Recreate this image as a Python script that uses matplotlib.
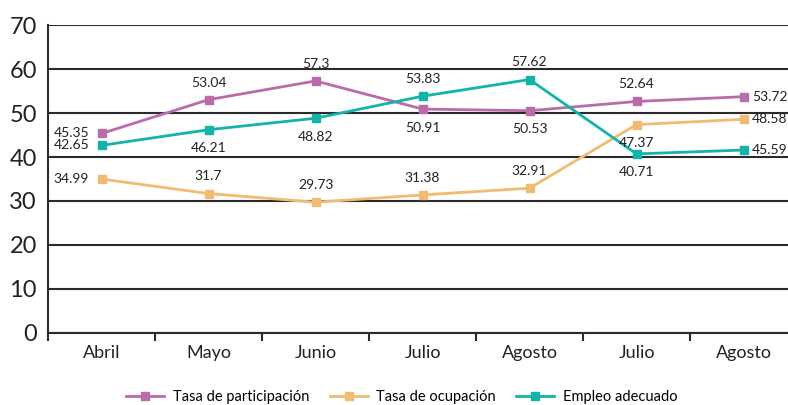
import matplotlib.pyplot as plt
import numpy as np

plt.rcParams['font.family'] = ['Lato', 'DejaVu Sans']

meses = ['Abril', 'Mayo', 'Junio', 'Julio', 'Agosto', 'Julio', 'Agosto']

participacion = [45.35, 53.04, 57.3, 50.91, 50.53, 52.64, 53.72]
ocupacion = [34.99, 31.7, 29.73, 31.38, 32.91, 47.37, 48.58]
empleo = [42.65, 46.21, 48.82, 53.83, 57.62, 40.71, 41.59]
# etiquetas tal como aparecen en el grafico original
empleo_txt = ['42.65', '46.21', '48.82', '53.83', '57.62', '40.71', '45.59']

# posicion de cada etiqueta: 'l' izquierda, 'a' arriba, 'b' abajo, 'r' derecha
pos_part = ['l', 'a', 'a', 'b', 'b', 'a', 'r']
pos_ocup = ['l', 'a', 'a', 'a', 'a', 'b', 'r']
pos_emp = ['l', 'b', 'b', 'a', 'a', 'b', 'r']

c_part = '#b96ca9'
c_ocup = '#f2bb73'
c_emp = '#14b3aa'

fig = plt.figure(figsize=(7.88, 4.05), dpi=100)
ax = fig.add_axes([0.061, 0.178, 0.945, 0.76])

x = np.arange(len(meses))
ax.plot(x, participacion, '-s', color=c_part, lw=2, ms=6, label='Tasa de participación')
ax.plot(x, ocupacion, '-s', color=c_ocup, lw=2, ms=6, label='Tasa de ocupación')
ax.plot(x, empleo, '-s', color=c_emp, lw=2, ms=6, label='Empleo adecuado')

offs = {'l': ((-9, 0), 'right', 'center'),
        'a': ((0, 8), 'center', 'bottom'),
        'b': ((0, -9), 'center', 'top'),
        'r': ((6, 0), 'left', 'center')}

def etiquetas(vals, textos, posiciones):
    for i, (v, t, p) in enumerate(zip(vals, textos, posiciones)):
        o, ha, va = offs[p]
        ax.annotate(t, (x[i], v), xytext=o, textcoords='offset points',
                    ha=ha, va=va, fontsize=10, color='#222222')

etiquetas(participacion, ['%g' % v for v in participacion], pos_part)
etiquetas(ocupacion, ['%g' % v for v in ocupacion], pos_ocup)
etiquetas(empleo, empleo_txt, pos_emp)

ax.set_ylim(0, 70)
ax.set_xlim(-0.5, 6.46)
ax.set_yticks(range(0, 71, 10))
ax.yaxis.grid(True, color='#2b2b2b', lw=1.5)
ax.set_axisbelow(True)
ax.tick_params(axis='y', length=0, labelsize=17, pad=8, labelcolor='#222222')
ax.set_xticks(x)
ax.set_xticklabels(meses)
ax.tick_params(axis='x', which='major', length=0, labelsize=13, pad=9, labelcolor='#222222')
ax.set_xticks(np.arange(-0.5, 6, 1), minor=True)
ax.tick_params(axis='x', which='minor', length=6, width=1.5, color='#2b2b2b', direction='out')

for s in ['top', 'right']:
    ax.spines[s].set_visible(False)
ax.spines['left'].set_color('#2b2b2b')
ax.spines['left'].set_linewidth(1.5)
ax.spines['bottom'].set_color('#2b2b2b')
ax.spines['bottom'].set_linewidth(1.5)

fig.legend(loc='lower center', bbox_to_anchor=(0.51, -0.03), ncol=3, frameon=False,
           fontsize=10.5, handlelength=2.6, handletextpad=0.6, columnspacing=1.4)

fig.savefig('out.png', dpi=100)
